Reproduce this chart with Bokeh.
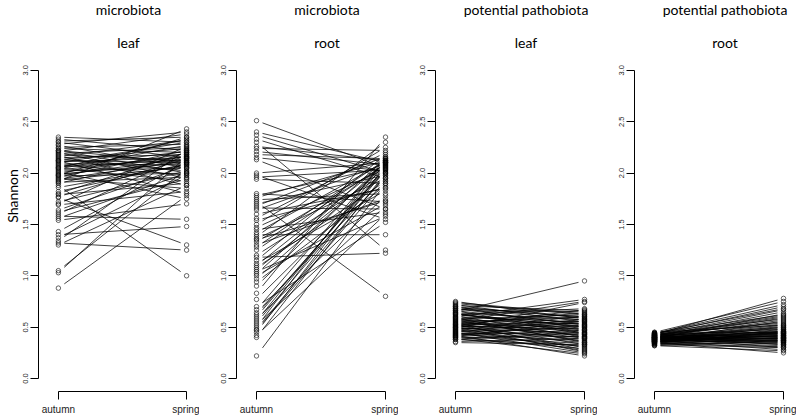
from bokeh.plotting import figure
from bokeh.layouts import row
from bokeh.models import ColumnDataSource, FixedTicker, PrintfTickFormatter, Label, Range1d
from bokeh.embed import file_html
from bokeh.resources import INLINE

# ---------------- data ----------------
group_titles = ["microbiota", "microbiota", "potential pathobiota", "potential pathobiota"]
tissue_titles = ["leaf", "root", "leaf", "root"]
season_labels = ["autumn", "spring"]
y_ticks = [0.0, 0.5, 1.0, 1.5, 2.0, 2.5, 3.0]
y_label = "Shannon"

# microbiota - leaf
micro_leaf_autumn = [2.35, 2.33, 2.31, 2.30, 2.28, 2.27, 2.25, 2.24, 2.22, 2.21, 2.20, 2.19, 2.18, 2.17,
                     2.16, 2.15, 2.14, 2.13, 2.12, 2.11, 2.10, 2.09, 2.08, 2.07, 2.06, 2.05, 2.04, 2.03,
                     2.02, 2.01, 2.00, 1.99, 1.98, 1.97, 1.96, 1.95, 1.94, 1.93, 1.92, 1.91, 1.90, 1.88,
                     1.82, 1.80, 1.79, 1.77, 1.76, 1.72, 1.70, 1.69, 1.64, 1.62, 1.60, 1.58, 1.56, 1.54,
                     1.43, 1.40, 1.37, 1.34, 1.32, 1.30, 1.05, 1.03, 0.88, 2.12, 2.05, 1.98, 2.22, 1.86]
micro_leaf_spring = [2.30, 2.22, 2.35, 2.15, 2.40, 2.05, 2.28, 2.20, 2.10, 2.38, 1.95, 2.25, 2.12, 1.88,
                     2.32, 2.18, 2.02, 2.24, 1.80, 2.15, 2.30, 2.08, 1.98, 2.21, 2.13, 1.92, 2.27, 2.16,
                     2.05, 1.75, 2.19, 2.10, 2.35, 2.00, 2.22, 1.85, 2.12, 2.06, 2.43, 1.96, 2.17, 1.00,
                     2.09, 2.20, 1.90, 2.14, 1.30, 2.02, 2.26, 1.82, 2.07, 1.94, 2.18, 1.55, 2.00, 1.70,
                     2.11, 1.48, 1.98, 2.23, 1.25, 1.88, 2.04, 2.16, 1.78, 2.10, 2.33, 2.14, 2.00, 2.08]

# microbiota - root
micro_root_autumn = [2.51, 2.40, 2.37, 2.33, 2.30, 2.26, 2.24, 2.21, 2.18, 2.15, 2.13, 2.00, 1.98, 1.96,
                     1.94, 1.80, 1.78, 1.76, 1.74, 1.72, 1.70, 1.68, 1.66, 1.64, 1.56, 1.54, 1.47, 1.45,
                     1.42, 1.40, 1.38, 1.36, 1.33, 1.30, 1.28, 1.20, 1.18, 1.15, 1.12, 1.10, 1.08, 1.06,
                     1.04, 1.02, 1.00, 0.97, 0.94, 0.83, 0.77, 0.70, 0.67, 0.64, 0.60, 0.58, 0.56, 0.54,
                     0.52, 0.50, 0.47, 0.45, 0.42, 0.40, 0.22, 1.50, 1.25, 0.90, 1.60, 0.62, 1.35, 0.48]
micro_root_spring = [2.05, 2.10, 2.00, 1.95, 1.25, 2.12, 2.22, 2.08, 2.14, 2.02, 1.65, 2.10, 1.55, 2.03,
                     1.90, 1.72, 2.06, 2.12, 1.80, 0.80, 1.98, 2.16, 1.65, 2.09, 2.20, 1.86, 2.04, 1.62,
                     2.11, 1.40, 2.30, 1.95, 2.07, 1.75, 2.13, 2.00, 1.22, 2.18, 1.83, 2.10, 1.92, 2.05,
                     1.58, 2.14, 1.70, 2.08, 1.88, 2.35, 2.01, 1.52, 2.12, 1.96, 2.06, 1.78, 2.10, 2.03,
                     1.68, 2.15, 1.93, 2.07, 1.60, 2.00, 1.90, 2.25, 2.09, 2.11, 1.85, 2.04, 1.73, 1.98]

# potential pathobiota - leaf
patho_leaf_autumn = [0.75, 0.73, 0.72, 0.71, 0.70, 0.69, 0.68, 0.67, 0.66, 0.65, 0.64, 0.63, 0.62, 0.61,
                     0.60, 0.60, 0.59, 0.58, 0.57, 0.57, 0.56, 0.55, 0.55, 0.54, 0.54, 0.53, 0.53, 0.52,
                     0.52, 0.51, 0.51, 0.50, 0.50, 0.49, 0.49, 0.48, 0.48, 0.47, 0.47, 0.46, 0.46, 0.45,
                     0.45, 0.44, 0.44, 0.43, 0.43, 0.42, 0.42, 0.41, 0.41, 0.40, 0.40, 0.39, 0.38, 0.38,
                     0.36, 0.35, 0.74, 0.70, 0.66, 0.63, 0.58, 0.56, 0.62, 0.68, 0.64, 0.50, 0.53, 0.59]
patho_leaf_spring = [0.58, 0.62, 0.55, 0.66, 0.48, 0.60, 0.52, 0.65, 0.44, 0.95, 0.57, 0.50, 0.68, 0.40,
                     0.55, 0.77, 0.46, 0.62, 0.36, 0.53, 0.75, 0.45, 0.60, 0.33, 0.50, 0.64, 0.42, 0.56,
                     0.30, 0.48, 0.67, 0.38, 0.54, 0.44, 0.74, 0.27, 0.52, 0.40, 0.61, 0.35, 0.49, 0.25,
                     0.58, 0.43, 0.31, 0.51, 0.37, 0.22, 0.47, 0.34, 0.56, 0.29, 0.41, 0.24, 0.45, 0.32,
                     0.39, 0.33, 0.63, 0.59, 0.53, 0.47, 0.41, 0.39, 0.51, 0.57, 0.43, 0.26, 0.28, 0.35]

# potential pathobiota - root
patho_root_autumn = [0.45, 0.45, 0.44, 0.44, 0.44, 0.43, 0.43, 0.43, 0.42, 0.42, 0.42, 0.42, 0.41, 0.41,
                     0.41, 0.41, 0.41, 0.40, 0.40, 0.40, 0.40, 0.40, 0.40, 0.39, 0.39, 0.39, 0.39, 0.39,
                     0.38, 0.38, 0.38, 0.38, 0.38, 0.37, 0.37, 0.37, 0.37, 0.36, 0.36, 0.36, 0.36, 0.35,
                     0.35, 0.35, 0.34, 0.34, 0.33, 0.33, 0.32, 0.32, 0.44, 0.43, 0.42, 0.41, 0.40, 0.39,
                     0.38, 0.37, 0.36, 0.35, 0.43, 0.42, 0.40, 0.39, 0.38, 0.37, 0.36, 0.34]
patho_root_spring = [0.75, 0.52, 0.72, 0.45, 0.62, 0.70, 0.40, 0.58, 0.67, 0.48, 0.36, 0.55, 0.65, 0.43,
                     0.50, 0.33, 0.60, 0.46, 0.38, 0.53, 0.42, 0.57, 0.30, 0.49, 0.44, 0.37, 0.63, 0.41,
                     0.47, 0.34, 0.51, 0.39, 0.45, 0.28, 0.43, 0.56, 0.36, 0.40, 0.48, 0.32, 0.44, 0.38,
                     0.25, 0.42, 0.35, 0.46, 0.30, 0.40, 0.37, 0.27, 0.68, 0.54, 0.61, 0.39, 0.35, 0.52,
                     0.41, 0.50, 0.37, 0.45, 0.78, 0.44, 0.59, 0.33, 0.46, 0.39, 0.42, 0.31]

panels = [
    (micro_leaf_autumn, micro_leaf_spring),
    (micro_root_autumn, micro_root_spring),
    (patho_leaf_autumn, patho_leaf_spring),
    (patho_root_autumn, patho_root_spring),
]

# ---------------- layout constants ----------------
FIG_W, FIG_H = 199, 417
BORDER_L, BORDER_B = 37, 25
FRAME_W = FIG_W - BORDER_L
FRAME_H = FIG_H - BORDER_B
PX_X = 129.0           # px per x unit
AUT_OFF = 20.0         # px from frame left to autumn
PX_Y = 103.0           # px per y unit
Y0_FROM_BOTTOM = 13.0  # px from frame bottom to y=0
x_start = 1 - AUT_OFF / PX_X
x_end = x_start + FRAME_W / PX_X
y_start = -Y0_FROM_BOTTOM / PX_Y
y_end = y_start + FRAME_H / PX_Y
GAP = 6.0 / PX_X       # gap between circle and line end

title_font = "Lato"
tick_font = "Liberation Sans"

figs = []
for i, (aut, spr) in enumerate(panels):
    p = figure(width=FIG_W, height=FIG_H, output_backend="svg", toolbar_location=None,
               x_range=Range1d(x_start, x_end), y_range=Range1d(y_start, y_end),
               min_border_left=BORDER_L, min_border_right=0, min_border_top=0,
               min_border_bottom=BORDER_B)
    p.outline_line_color = None
    p.xgrid.visible = False
    p.ygrid.visible = False
    p.background_fill_color = "white"
    p.border_fill_color = "white"

    n = len(aut)
    x0 = [1 + GAP] * n
    x1 = [2 - GAP] * n
    y0 = [a + (s - a) * GAP for a, s in zip(aut, spr)]
    y1 = [s - (s - a) * GAP for a, s in zip(aut, spr)]
    src = ColumnDataSource(dict(x0=x0, y0=y0, x1=x1, y1=y1))
    p.segment(x0="x0", y0="y0", x1="x1", y1="y1", source=src, line_color="black", line_width=0.75)
    p.scatter(x=[1] * n, y=aut, marker="circle", size=4.5, fill_color=None, line_color="black", line_width=0.6)
    p.scatter(x=[2] * n, y=spr, marker="circle", size=4.5, fill_color=None, line_color="black", line_width=0.6)

    # y axis
    ya = p.yaxis[0]
    ya.bounds = (y_ticks[0], y_ticks[-1])
    ya.ticker = FixedTicker(ticks=y_ticks)
    ya.formatter = PrintfTickFormatter(format="%.1f")
    ya.major_label_orientation = "parallel"
    ya.major_tick_out = 8
    ya.major_tick_in = 0
    ya.minor_tick_out = 0
    ya.minor_tick_in = 0
    ya.major_label_standoff = 2
    ya.major_label_text_font = tick_font
    ya.major_label_text_font_size = "7.5px"
    ya.major_label_text_color = "#222222"
    ya.axis_line_color = "black"
    ya.major_tick_line_color = "black"
    if i == 0:
        ya.axis_label = y_label
        ya.axis_label_standoff = 0
        ya.axis_label_text_font = title_font
        ya.axis_label_text_font_size = "14px"
        ya.axis_label_text_font_style = "normal"
        ya.axis_label_text_color = "black"

    # x axis
    xa = p.xaxis[0]
    xa.bounds = (1, 2)
    xa.ticker = FixedTicker(ticks=[1, 2])
    xa.major_label_overrides = {1: season_labels[0], 2: season_labels[1]}
    xa.major_tick_out = 8
    xa.major_tick_in = 0
    xa.minor_tick_out = 0
    xa.minor_tick_in = 0
    xa.major_label_standoff = 4
    xa.major_label_text_font = tick_font
    xa.major_label_text_font_size = "10px"
    xa.major_label_text_color = "#222222"
    xa.axis_line_color = "black"

    # titles
    tx = 1.5 + 6.0 / PX_X
    p.add_layout(Label(x=tx, y=3.59, text=group_titles[i], text_align="center", text_baseline="middle",
                       text_font=title_font, text_font_size="14px", text_color="black"))
    p.add_layout(Label(x=tx, y=3.27, text=tissue_titles[i], text_align="center", text_baseline="middle",
                       text_font=title_font, text_font_size="14px", text_color="black"))
    figs.append(p)

layout = row(*figs)
open("out.html", "w").write(file_html(layout, INLINE))
